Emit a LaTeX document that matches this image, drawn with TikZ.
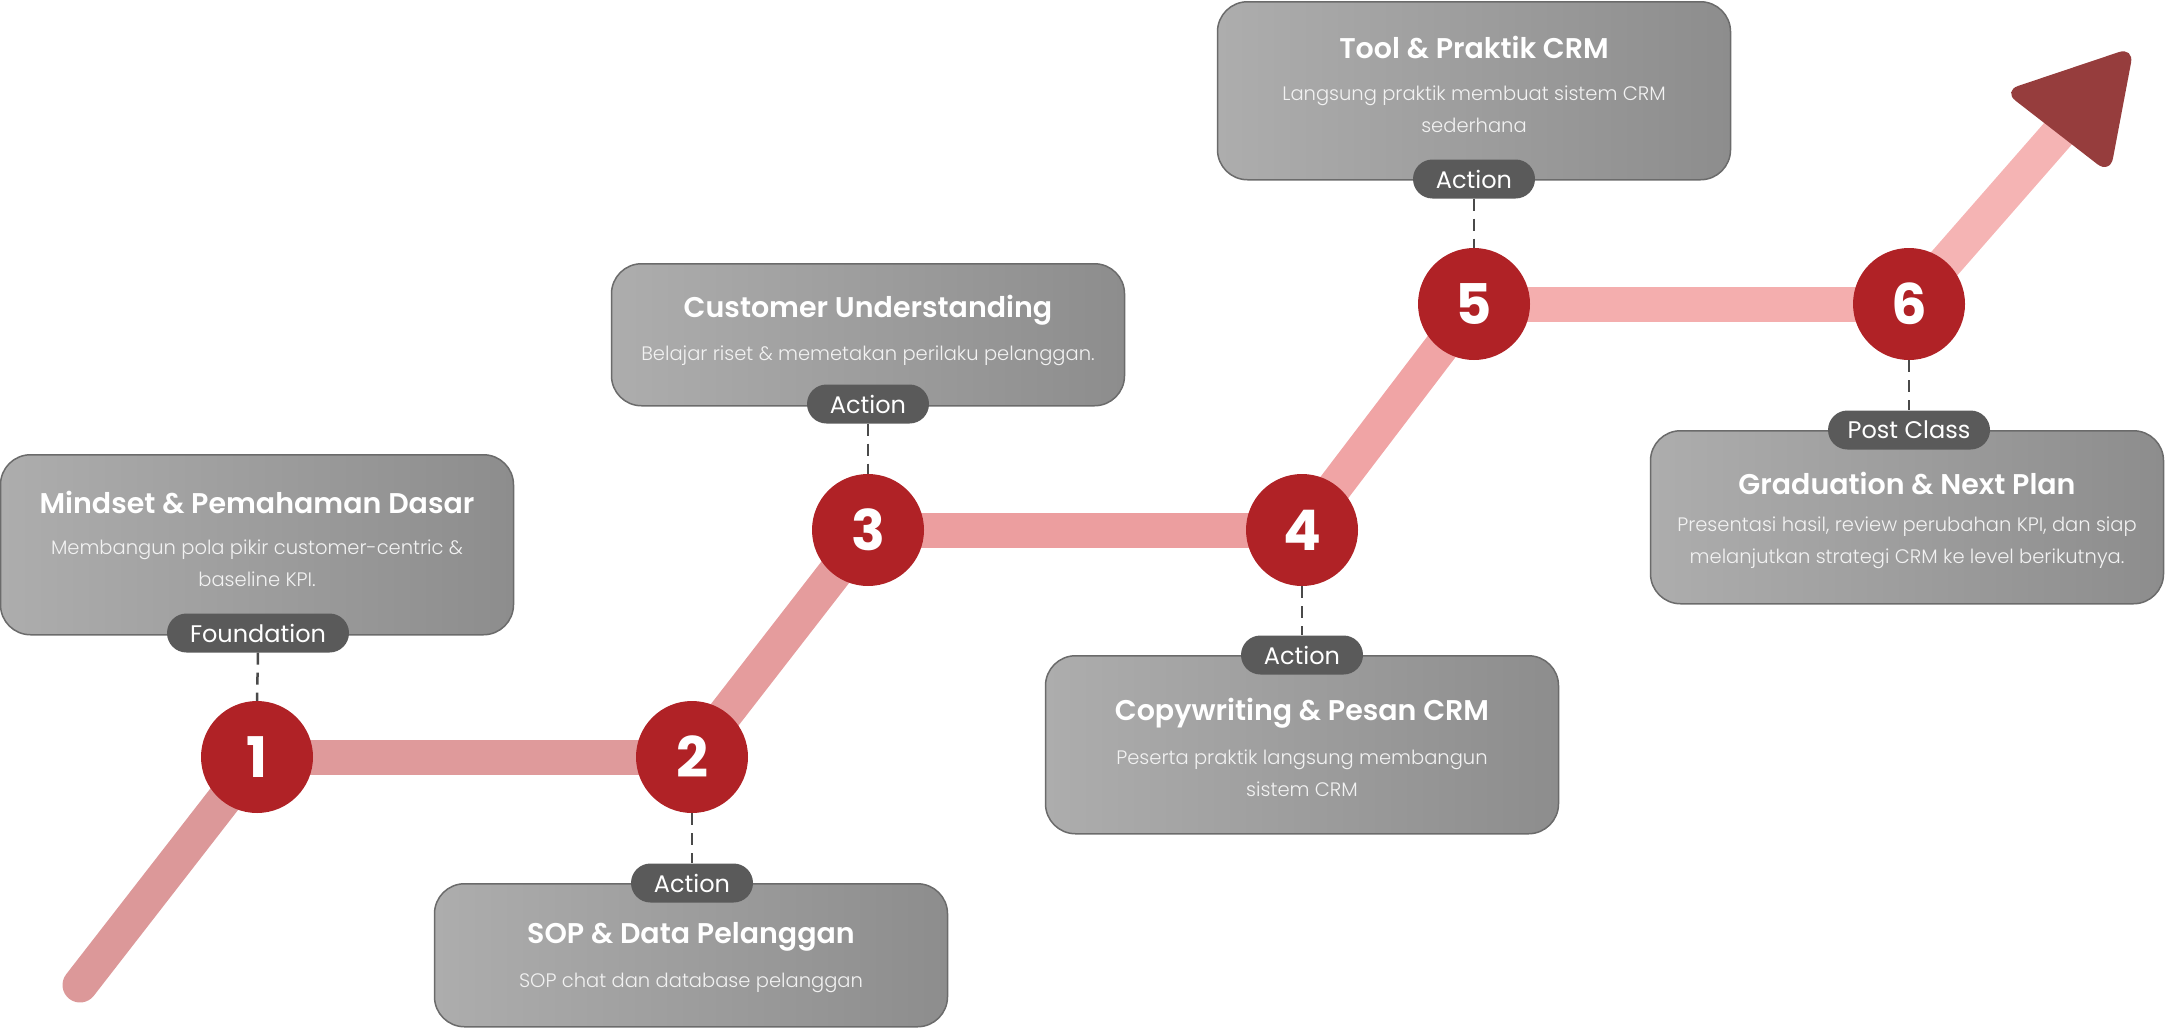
\documentclass[tikz,border=0pt]{standalone}
\usepackage{fontspec}
\setmainfont{Poppins}
\newfontfamily\semibfont{Poppins SemiBold}
\newfontfamily\lightfont{Poppins Light}
\usetikzlibrary{backgrounds}
\definecolor{boxL}{HTML}{ADADAD}
\definecolor{boxR}{HTML}{8D8D8D}
\definecolor{boxEdge}{HTML}{6B6B6B}
\definecolor{pillC}{HTML}{5A5A5A}
\definecolor{circC}{HTML}{B02226}
\definecolor{arrowC}{HTML}{963D3D}
\definecolor{dashC}{HTML}{4A4A4A}
\definecolor{descC}{HTML}{F2F2F2}
\definecolor{segA}{HTML}{DC9899}
\definecolor{segB}{HTML}{DF9A9B}
\definecolor{segC}{HTML}{E59C9D}
\definecolor{segD}{HTML}{EC9E9F}
\definecolor{segE}{HTML}{F0A4A5}
\definecolor{segF}{HTML}{F4AEAE}
\definecolor{segG}{HTML}{F5B4B4}
\tikzset{
  stepbox/.style={draw=boxEdge, line width=1.5pt, rounded corners=30pt, left color=boxL, right color=boxR, minimum width=513pt, inner sep=0pt, anchor=north},
  pill/.style={fill=pillC, rounded corners=19.5pt, minimum height=39pt, text=white, font=\fontsize{24}{24}\selectfont, inner sep=0pt},
  stepnum/.style={circle, fill=circC, minimum size=112pt, inner sep=0pt, text=white, font=\bfseries\fontsize{56}{56}\selectfont},
  ttl/.style={text=white, inner sep=0pt, font=\semibfont\fontsize{28.5}{30}\selectfont},
  dsc/.style={text=descC, align=center, inner sep=0pt, font=\lightfont\fontsize{19.5}{32}\selectfont},
  dashline/.style={draw=dashC, line width=2.5pt, dash pattern=on 12pt off 8pt},
  road/.style={line width=35pt},
}
\begin{document}
\begin{tikzpicture}[x=1pt,y=-1pt]
\useasboundingbox (0,0) rectangle (2170,1028);
% circles
\node[stepnum] (c1) at (257,757) {1};
\node[stepnum] (c2) at (692,757) {2};
\node[stepnum] (c3) at (868,530) {3};
\node[stepnum] (c4) at (1302,530) {4};
\node[stepnum] (c5) at (1474,304) {5};
\node[stepnum] (c6) at (1909,304) {6};
\coordinate (start) at (80,985);
\coordinate (ahL) at (2003,91);
\coordinate (ahT) at (2134,47);
\coordinate (ahB) at (2110,174);
\coordinate (ahM) at (2070,120);
\begin{scope}[on background layer]
\draw[road, segA, line cap=round] (start) -- (c1.center);
\draw[road, segB] (c1.center) -- (c2.center);
\draw[road, segC] (c2.center) -- (c3.center);
\draw[road, segD] (c3.center) -- (c4.center);
\draw[road, segE] (c4.center) -- (c5.center);
\draw[road, segF] (c5.center) -- (c6.center);
\draw[road, segG] (c6.center) -- (ahM);
\end{scope}
\fill[arrowC, rounded corners=16pt] (ahL) -- (ahT) -- (ahB) -- cycle;
% boxes
\node[stepbox, minimum height=180pt] (b1) at (257,454) {};
\node[stepbox, minimum height=143pt] (b2) at (691,883) {};
\node[stepbox, minimum height=142pt] (b3) at (868,263) {};
\node[stepbox, minimum height=178pt] (b4) at (1302,655) {};
\node[stepbox, minimum height=178pt] (b5) at (1474,1) {};
\node[stepbox, minimum height=173pt] (b6) at (1907,430) {};
% texts
\node[ttl] (t1) at (257,502) {Mindset \& Pemahaman Dasar};
\node[dsc] (d1) at (257,563) {Membangun pola pikir customer-centric \&\\baseline KPI.};
\node[ttl] (t2) at (691,937) {SOP \& Data Pelanggan};
\node[dsc] (d2) at (691,983) {SOP chat dan database pelanggan};
\node[ttl] (t3) at (868,310) {Customer Understanding};
\node[dsc] (d3) at (868,356) {Belajar riset \& memetakan perilaku pelanggan.};
\node[ttl] (t4) at (1302,713) {Copywriting \& Pesan CRM};
\node[dsc] (d4) at (1302,773) {Peserta praktik langsung membangun\\sistem CRM};
\node[ttl] (t5) at (1474,47) {Tool \& Praktik CRM};
\node[dsc] (d5) at (1474,109) {Langsung praktik membuat sistem CRM\\sederhana};
\node[ttl] (t6) at (1907,483) {Graduation \& Next Plan};
\node[dsc] (d6) at (1907,543) {Presentasi hasil, review perubahan KPI, dan siap\\melanjutkan strategi CRM ke level berikutnya.};
% pills
\node[pill, minimum width=182pt] (p1) at (258,633) {Foundation};
\node[pill, minimum width=122pt] (p2) at (692,883) {Action};
\node[pill, minimum width=122pt] (p3) at (868,404) {Action};
\node[pill, minimum width=122pt] (p4) at (1302,655) {Action};
\node[pill, minimum width=122pt] (p5) at (1474,179) {Action};
\node[pill, minimum width=162pt] (p6) at (1909,430) {Post Class};
% dashed connectors
\draw[dashline] (p1.south) -- (c1.north);
\draw[dashline] (c2.south) -- (p2.north);
\draw[dashline] (p3.south) -- (c3.north);
\draw[dashline] (c4.south) -- (p4.north);
\draw[dashline] (p5.south) -- (c5.north);
\draw[dashline] (c6.south) -- (p6.north);
\end{tikzpicture}
\end{document}
